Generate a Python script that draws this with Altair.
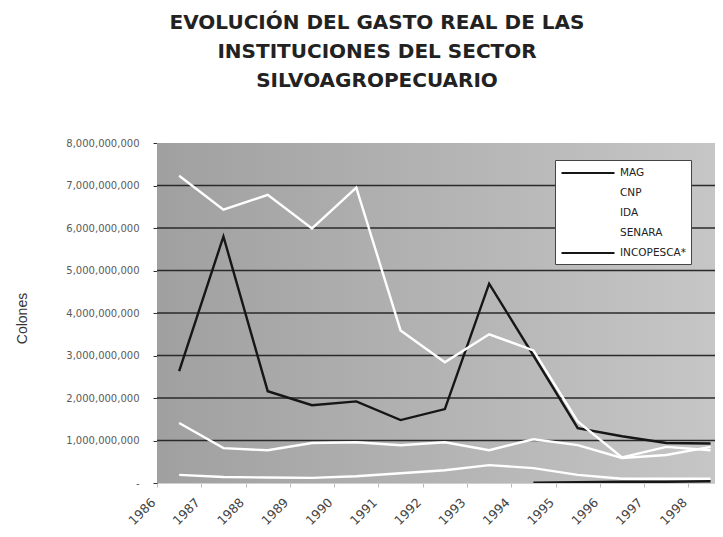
import altair as alt
import pandas as pd

# ---- data (values in billions of colones) ----
years = list(range(1986, 1999))
series_names = ["MAG", "CNP", "IDA", "SENARA", "INCOPESCA*"]
series_colors = ["#161616", "#ffffff", "#ffffff", "#ffffff", "#161616"]

mag = [2.63, 5.80, 2.16, 1.83, 1.92, 1.48, 1.74, 4.69, 3.00, 1.29, 1.10, 0.94, 0.93]
cnp = [7.23, 6.43, 6.78, 5.99, 6.95, 3.59, 2.84, 3.50, 3.12, 1.45, 0.60, 0.85, 0.77]
ida = [1.41, 0.82, 0.77, 0.94, 0.96, 0.89, 0.96, 0.77, 1.03, 0.89, 0.59, 0.66, 0.85]
senara = [0.19, 0.14, 0.13, 0.12, 0.16, 0.23, 0.30, 0.42, 0.35, 0.19, 0.10, 0.10, 0.10]
incopesca = [None, None, None, None, None, None, None, None, 0.01, 0.02, 0.03, 0.03, 0.04]

y_ticks = [0, 1e9, 2e9, 3e9, 4e9, 5e9, 6e9, 7e9, 8e9]
grid_values = [1e9, 2e9, 3e9, 4e9, 5e9, 6e9, 7e9]
x_ticks = [y - 0.5 for y in years]

rows = []
for name, vals in zip(series_names, [mag, cnp, ida, senara, incopesca]):
    for yr, v in zip(years, vals):
        if v is not None:
            rows.append({"Año": yr, "Serie": name, "Gasto": v * 1e9})
df = pd.DataFrame(rows)
grid_df = pd.DataFrame({"g": grid_values})

x_scale = alt.Scale(domain=[1985.5, 1998.1], nice=False, zero=False)
y_scale = alt.Scale(domain=[0, 8e9], nice=False)

bg = alt.Chart(alt.Data(values=[{}])).mark_rect(
    color=alt.Gradient(
        gradient="linear",
        stops=[alt.GradientStop(color="#a0a0a0", offset=0),
               alt.GradientStop(color="#b3b3b3", offset=0.5),
               alt.GradientStop(color="#c6c6c6", offset=1)],
        x1=0, x2=1, y1=0, y2=0,
    )
).encode(x=alt.value(0), x2=alt.value("width"), y=alt.value(0), y2=alt.value("height"))

grid = alt.Chart(grid_df).mark_rule(color="#2a2a2a", strokeWidth=1.4).encode(
    y=alt.Y("g:Q", scale=y_scale)
)

lines = alt.Chart(df).mark_line(strokeWidth=2.4, clip=True).encode(
    x=alt.X(
        "Año:Q",
        scale=x_scale,
        axis=alt.Axis(
            values=x_ticks,
            labelExpr="format(datum.value + 0.5, 'd')",
            labelAngle=-45,
            labelAlign="right",
            labelBaseline="middle",
            labelFont="DejaVu Sans",
            labelFontSize=12.5,
            labelColor="#444444",
            labelPadding=13,
            labelOffset=-4,
            labelOverlap=False,
            labelFlush=False,
            tickSize=4,
            tickColor="#bbbbbb",
            domainColor="#d0d0d0",
            grid=False,
            title=None,
        ),
    ),
    y=alt.Y(
        "Gasto:Q",
        scale=y_scale,
        axis=alt.Axis(
            values=y_ticks,
            labelExpr="datum.value == 0 ? '-' : format(datum.value, ',')",
            labelFont="DejaVu Sans",
            labelFontSize=10,
            labelColor="#5a5a5a",
            labelPadding=14,
            tickSize=4,
            tickColor="#333333",
            domain=False,
            grid=False,
            title="Colones",
            titleFont="Liberation Sans",
            titleFontSize=14,
            titleFontWeight="normal",
            titleColor="#333333",
            titleX=-135,
            titleY=175,
            titleAngle=-90,
            titleAlign="center",
            titleBaseline="middle",
        ),
    ),
    color=alt.Color(
        "Serie:N",
        sort=series_names,
        scale=alt.Scale(domain=series_names, range=series_colors),
        legend=alt.Legend(
            title=None,
            orient="none",
            legendX=398,
            legendY=17,
            symbolType="M-4,0H4",
            symbolSize=175,
            symbolStrokeWidth=2.2,
            symbolOffset=20,
            labelOffset=24,
            labelFont="DejaVu Sans",
            labelFontSize=10.5,
            labelColor="#222222",
            fillColor="white",
            strokeColor="#444444",
            padding=5,
            rowPadding=6,
        ),
    ),
)

chart = alt.layer(bg, grid, lines).properties(
    width=558,
    height=340,
    autosize=alt.AutoSizeParams(type="none"),
    padding={"left": 149, "top": 135, "right": 0, "bottom": 46},
    title=alt.Title(
        ["EVOLUCIÓN DEL GASTO REAL DE LAS", "INSTITUCIONES DEL SECTOR", "SILVOAGROPECUARIO"],
        font="DejaVu Sans",
        fontSize=20,
        fontWeight="bold",
        color="#222222",
        lineHeight=29,
        anchor="middle",
        dx=-59,
        offset=47,
    ),
).configure_view(stroke=None)

chart.save("out.html", embed_options={"renderer": "svg", "actions": False})
